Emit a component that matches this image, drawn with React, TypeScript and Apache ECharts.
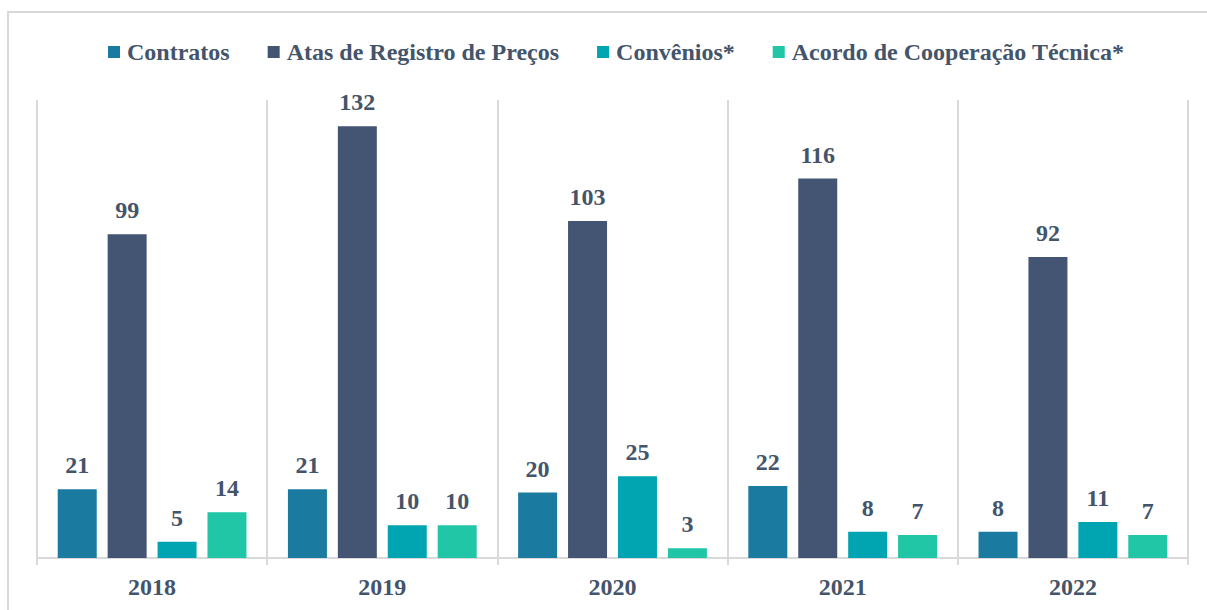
import React, { useEffect, useRef } from "react";
import * as echarts from "echarts";

const categories = ["2018", "2019", "2020", "2021", "2022"];
const seriesNames = ["Contratos", "Atas de Registro de Preços", "Convênios*", "Acordo de Cooperação Técnica*"];
const contratos = [21, 21, 20, 22, 8];
const atas = [99, 132, 103, 116, 92];
const convenios = [5, 10, 25, 8, 11];
const acordos = [14, 10, 3, 7, 7];
const colors = ["#1a7a9f", "#445574", "#00a5b1", "#20c6a6"];

const FONT = "'Liberation Serif', 'Times New Roman', serif";
const TEXT = "#44546a";
const GRID_LINE = "#d9d9d9";

export default function App() {
  const ref = useRef<HTMLDivElement>(null);
  useEffect(() => {
    if (!ref.current) return;
    const chart = echarts.init(ref.current, null, { renderer: "svg" });
    const values = [contratos, atas, convenios, acordos];
    chart.setOption({
      animation: false,
      backgroundColor: "#ffffff",
      color: colors,
      textStyle: { fontFamily: FONT },
      graphic: [
        {
          type: "rect",
          shape: { x: 8, y: 12, width: 1240, height: 640 },
          style: { fill: "none", stroke: GRID_LINE, lineWidth: 2 },
          silent: true,
        },
      ],
      legend: {
        top: 35,
        left: 103,
        itemWidth: 12,
        itemHeight: 12,
        itemGap: 38,
        icon: "rect",
        data: seriesNames,
        textStyle: { fontFamily: FONT, fontSize: 24, fontWeight: "bold", color: TEXT, padding: [0, 0, 0, 2] },
      },
      grid: { left: 37, right: 19, top: 100, bottom: 52 },
      xAxis: {
        type: "category",
        data: categories,
        axisLine: { lineStyle: { color: GRID_LINE, width: 2 } },
        axisTick: { show: true, length: 7, lineStyle: { color: GRID_LINE, width: 2 } },
        splitLine: { show: true, lineStyle: { color: GRID_LINE, width: 2 } },
        axisLabel: { margin: 17, fontFamily: FONT, fontSize: 24, fontWeight: "bold", color: TEXT },
      },
      yAxis: {
        type: "value",
        min: 0,
        max: 140,
        show: false,
        splitLine: { show: false },
      },
      series: seriesNames.map((name, i) => ({
        name,
        type: "bar",
        data: values[i],
        barWidth: 39,
        barGap: "28%",
        itemStyle: { color: colors[i] },
        label: {
          show: true,
          position: "top",
          distance: 12,
          fontFamily: FONT,
          fontSize: 24,
          fontWeight: "bold",
          color: TEXT,
        },
      })),
    });
    return () => chart.dispose();
  }, []);
  return (
    <div
      ref={ref}
      style={{ position: "fixed", left: 0, top: 0, width: 1207, height: 610, background: "#fff" }}
    />
  );
}
